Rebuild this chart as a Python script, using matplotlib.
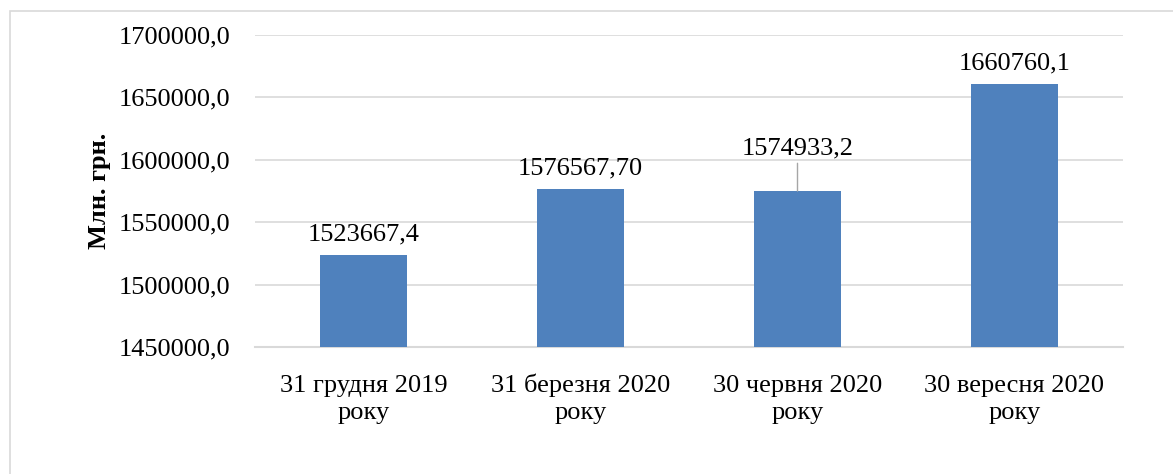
import matplotlib.pyplot as plt
from matplotlib.patches import Rectangle

plt.rcParams['font.family'] = ['Liberation Serif', 'DejaVu Serif']

dates = ['31 грудня 2019\nроку', '31 березня 2020\nроку',
         '30 червня 2020\nроку', '30 вересня 2020\nроку']
values = [1523667.4, 1576567.70, 1574933.2, 1660760.1]
value_labels = ['1523667,4', '1576567,70', '1574933,2', '1660760,1']
yticks = [1450000, 1500000, 1550000, 1600000, 1650000, 1700000]

FS = 19

fig = plt.figure(figsize=(11.73, 4.74), dpi=100)
W, H = 1173, 474
ax = fig.add_axes([255 / W, 1 - 347 / H, (1123 - 255) / W, (347 - 35) / H])

# chart frame
fig.patches.append(Rectangle((10 / W, -0.1), 1.2, 1 - 11 / H + 0.1,
                             transform=fig.transFigure, fill=False,
                             edgecolor='#D9D9D9', linewidth=1.2))

x = range(len(values))
ax.bar(x, values, width=0.4, color='#4F81BD', zorder=3)

ax.set_xlim(-0.5, 3.5)
ax.set_ylim(1450000, 1700000)
ax.set_yticks(yticks)
ax.set_yticklabels([f'{v},0' for v in yticks], fontsize=FS)
ax.set_xticks(list(x))
ax.set_xticklabels(dates, fontsize=FS, linespacing=1.3)
for t in ax.get_xticklabels():
    t.set_verticalalignment('baseline')
ax.tick_params(axis='both', length=0)
ax.tick_params(axis='y', pad=18)
ax.tick_params(axis='x', pad=52)

ax.grid(axis='y', color='#D9D9D9', linewidth=1.2, zorder=0)
for s in ['top', 'right', 'left']:
    ax.spines[s].set_visible(False)
ax.spines['bottom'].set_color('#D9D9D9')
ax.spines['bottom'].set_linewidth(1.5)

ax.set_ylabel('Млн. грн.', fontsize=FS, fontweight='bold', labelpad=5)

for i, (v, lab) in enumerate(zip(values, value_labels)):
    if i == 2:
        ax.annotate(lab, xy=(i, v), xytext=(0, 23), textcoords='offset points',
                    ha='center', va='bottom', fontsize=FS,
                    arrowprops=dict(arrowstyle='-', color='#A6A6A6', lw=1,
                                    shrinkA=1, shrinkB=0))
    else:
        ax.annotate(lab, xy=(i, v), xytext=(0, 7), textcoords='offset points',
                    ha='center', va='bottom', fontsize=FS)

fig.savefig('out.png', dpi=100)
